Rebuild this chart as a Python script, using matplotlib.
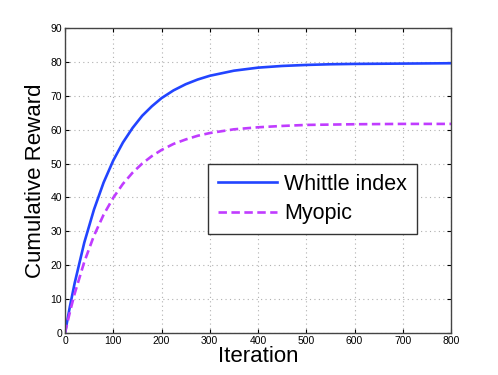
import matplotlib
matplotlib.use("Agg")
import matplotlib.pyplot as plt

iterations = [0, 10, 20, 40, 60, 80, 100, 120, 140, 160, 180, 200, 225, 250, 275, 300,
              350, 400, 450, 500, 550, 600, 700, 800]
whittle = [0, 7.7, 14.7, 26.7, 36.4, 44.4, 50.9, 56.2, 60.5, 64.1, 66.9, 69.3, 71.6, 73.4,
           74.8, 75.9, 77.4, 78.3, 78.8, 79.1, 79.3, 79.4, 79.5, 79.6]
myopic = [0, 6.1, 11.6, 21.0, 28.7, 34.9, 39.9, 44.0, 47.3, 50.0, 52.2, 54.0, 55.8, 57.1,
          58.2, 59.0, 60.1, 60.7, 61.1, 61.4, 61.5, 61.6, 61.7, 61.7]
xticks = [0, 100, 200, 300, 400, 500, 600, 700, 800]
yticks = [0, 10, 20, 30, 40, 50, 60, 70, 80, 90]

plt.rcParams['font.family'] = ['Liberation Sans', 'DejaVu Sans']

fig = plt.figure(figsize=(4.98, 3.75), dpi=100)
ax = fig.add_axes([65/498, 42/375, 386/498, 305/375])

ax.plot(iterations, whittle, color='#2244ff', lw=1.9, label='Whittle index')
ax.plot(iterations, myopic, color='#c03cff', lw=1.9, ls=(0, (3.2, 1.7)), label='Myopic')

ax.set_xlim(0, 800)
ax.set_ylim(0, 90)
ax.set_xticks(xticks)
ax.set_yticks(yticks)
ax.tick_params(direction='in', top=True, right=True, labelsize=7.5, length=3, width=0.8, pad=2)
ax.grid(True, color='#b0b0b0', ls=(0, (1, 3)), lw=0.8)
for s in ax.spines.values():
    s.set_color('#444444')
    s.set_linewidth(1.0)

ax.set_xlabel('Iteration', fontsize=16, labelpad=0)
ax.set_ylabel('Cumulative Reward', fontsize=16, labelpad=3)

leg = ax.legend(loc='upper left', bbox_to_anchor=((208-65)/386, (333-164)/305),
                borderaxespad=0, fontsize=15.5, frameon=True, fancybox=False,
                handlelength=2.75, borderpad=0.45, labelspacing=0.4, handletextpad=0.35)
leg.get_frame().set_edgecolor('#333333')
leg.get_frame().set_linewidth(1.0)
leg.get_frame().set_alpha(1)

fig.savefig('out.png', dpi=100)
